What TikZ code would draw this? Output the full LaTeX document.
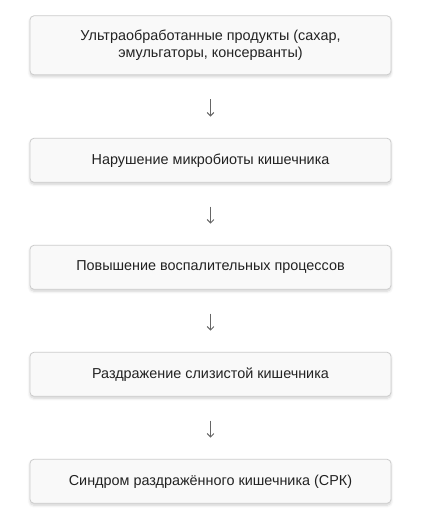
\documentclass[tikz,border=0pt]{standalone}
\usepackage{fontspec}
\setmainfont{Liberation Sans}
\usetikzlibrary{arrows.meta,shadows.blur}
\definecolor{boxfill}{HTML}{F9F9F9}
\definecolor{boxline}{HTML}{CCCCCC}
\definecolor{txtcol}{HTML}{222222}
\definecolor{arrcol}{HTML}{666666}
\tikzset{
  stepbox/.style={draw=boxline, fill=boxfill, rounded corners=3pt, line width=0.6pt,
    minimum width=270.75pt, minimum height=33pt, align=center, text=txtcol,
    font=\fontsize{10.8}{12.4}\selectfont,
    blur shadow={shadow blur steps=6, shadow xshift=0pt, shadow yshift=-1.5pt, shadow opacity=18, shadow blur radius=2pt}},
  flow/.style={draw=arrcol, line width=0.7pt, -{Straight Barb[length=2.5pt,width=5pt]},
    shorten <=18pt, shorten >=16pt}
}
\begin{document}
\begin{tikzpicture}[x=0.75pt,y=0.75pt,yscale=-1,xscale=1]
\useasboundingbox (0,0) rectangle (428,524);

% Text Node
\node [stepbox, minimum height=44.25pt] (upf) at (210.5,45.3) {Ультраобработанные продукты (сахар,\\эмульгаторы, консерванты)};
% Text Node
\node [stepbox] (micro) at (210.5,160.3) {Нарушение микробиоты кишечника};
% Text Node
\node [stepbox] (inflam) at (210.5,267.3) {Повышение воспалительных процессов};
% Text Node
\node [stepbox] (mucosa) at (210.5,374.3) {Раздражение слизистой кишечника};
% Text Node
\node [stepbox] (ibs) at (210.5,481.3) {Синдром раздражённого кишечника (СРК)};

%Straight Lines
\draw [flow] (upf) -- (micro);
\draw [flow] (micro) -- (inflam);
\draw [flow] (inflam) -- (mucosa);
\draw [flow] (mucosa) -- (ibs);
\end{tikzpicture}
\end{document}
